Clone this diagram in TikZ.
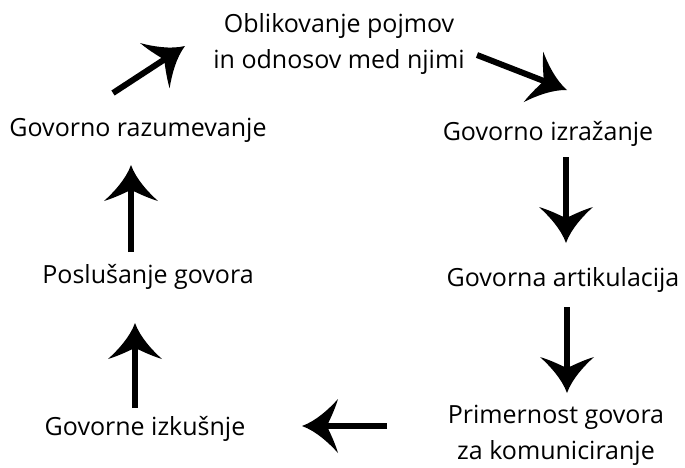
\documentclass[tikz,border=0pt]{standalone}
\usepackage{fontspec}
\setmainfont{Open Sans}

\pgfdeclarearrow{
  name = Puscica,
  setup code = {
    \pgfarrowssettipend{0pt}
    \pgfarrowssetlineend{-24pt}
    \pgfarrowssetbackend{-36pt}
    \pgfarrowsupperhullpoint{-36pt}{27pt}
    \pgfarrowsupperhullpoint{0pt}{0pt}
  },
  drawing code = {
    \pgfpathmoveto{\pgfqpoint{0pt}{0pt}}
    \pgfpathcurveto{\pgfqpoint{-14pt}{5pt}}{\pgfqpoint{-27pt}{17pt}}{\pgfqpoint{-36pt}{27pt}}
    \pgfpathcurveto{\pgfqpoint{-32pt}{14pt}}{\pgfqpoint{-27pt}{5pt}}{\pgfqpoint{-25pt}{0pt}}
    \pgfpathcurveto{\pgfqpoint{-27pt}{-5pt}}{\pgfqpoint{-32pt}{-14pt}}{\pgfqpoint{-36pt}{-27pt}}
    \pgfpathcurveto{\pgfqpoint{-27pt}{-17pt}}{\pgfqpoint{-14pt}{-5pt}}{\pgfqpoint{0pt}{0pt}}
    \pgfpathclose
    \pgfusepathqfill
  }
}

\begin{document}
\begin{tikzpicture}[x=1pt,y=-1pt,
  lbl/.style={inner sep=0pt,align=center,font=\fontsize{25}{36}\selectfont},
  arr/.style={draw=black,line width=6pt,-Puscica}]
\useasboundingbox (0,0) rectangle (685,467);
\node[lbl,anchor=base] (pojmi) at (339,68) {Oblikovanje pojmov\\in odnosov med njimi};
\node[lbl,anchor=base] (izrazanje) at (548,140) {Govorno izražanje};
\node[lbl,anchor=base] (artikulacija) at (563,286) {Govorna artikulacija};
\node[lbl,anchor=base] (primernost) at (556,459) {Primernost govora\\za komuniciranje};
\node[lbl,anchor=base] (izkusnje) at (145,435) {Govorne izkušnje};
\node[lbl,anchor=base] (poslusanje) at (148,283) {Poslušanje govora};
\node[lbl,anchor=base] (razumevanje) at (138,136) {Govorno razumevanje};
\coordinate (p1) at (477,55);  \coordinate (k1) at (567,90);
\coordinate (p2) at (566,157); \coordinate (k2) at (566,243);
\coordinate (p3) at (567,307); \coordinate (k3) at (567,393);
\coordinate (p4) at (387,426); \coordinate (k4) at (302,426);
\coordinate (p5) at (135,408); \coordinate (k5) at (135,323);
\coordinate (p6) at (131,252); \coordinate (k6) at (131,165);
\coordinate (p7) at (113,93);  \coordinate (k7) at (185,46);
\foreach \i in {1,...,7} \draw[arr] (p\i) -- (k\i);
\end{tikzpicture}
\end{document}
